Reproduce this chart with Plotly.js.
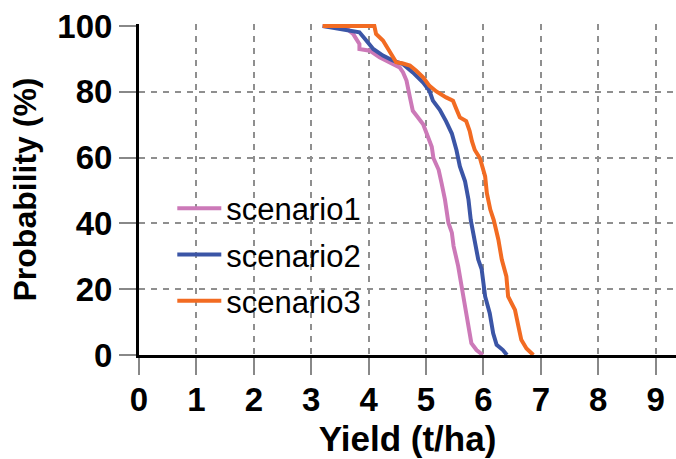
<!DOCTYPE html>
<html>
<head>
<meta charset="utf-8">
<script src="https://cdn.plot.ly/plotly-3.0.1.min.js"></script>
<style>
html,body{margin:0;padding:0;background:#fff;}
#chart{width:676px;height:459px;}
</style>
</head>
<body>
<div id="chart"></div>
<script>
// Scenario 1 (pink)
var s1Yield = [3.20, 3.60, 3.73, 3.84, 3.84, 4.02, 4.19, 4.37, 4.54, 4.60, 4.66, 4.72, 4.77, 4.86, 4.95, 5.03, 5.10, 5.13, 5.22, 5.27, 5.33, 5.39, 5.45, 5.48, 5.56, 5.62, 5.68, 5.74, 5.79, 5.88, 5.99];
var s1Prob  = [100, 99.5, 97.6, 94.5, 93, 92.5, 90.5, 89, 87.4, 85.9, 83.4, 78.3, 74.2, 72.2, 70.1, 66.5, 63.3, 59.8, 56.3, 52.3, 47.2, 40.2, 37.2, 33.1, 27, 20.9, 14.8, 8.7, 3.6, 1.5, 0];
// Scenario 2 (blue)
var s2Yield = [3.20, 3.84, 3.96, 4.08, 4.25, 4.42, 4.60, 4.77, 4.95, 5.06, 5.12, 5.24, 5.35, 5.45, 5.53, 5.59, 5.68, 5.74, 5.78, 5.85, 5.91, 5.97, 6.03, 6.11, 6.17, 6.23, 6.34, 6.41];
var s2Prob  = [100, 98.1, 95.6, 93, 91, 89.5, 88.4, 85.9, 82.8, 80.3, 77.3, 74.5, 71, 67.3, 62.3, 57.3, 52.8, 47.2, 41, 35.1, 29, 26, 17.8, 12.7, 6.6, 3.1, 1.5, 0];
// Scenario 3 (orange)
var s3Yield = [3.20, 4.10, 4.13, 4.25, 4.34, 4.42, 4.48, 4.60, 4.72, 4.83, 4.95, 5.06, 5.18, 5.35, 5.47, 5.53, 5.59, 5.70, 5.76, 5.80, 5.85, 5.94, 6.03, 6.06, 6.12, 6.18, 6.26, 6.32, 6.40, 6.43, 6.55, 6.61, 6.66, 6.75, 6.87];
var s3Prob  = [100, 100, 97.6, 95.6, 93, 90.5, 89, 88.6, 88, 86.4, 84.4, 81.8, 80.1, 78.3, 77.3, 74.7, 72.2, 71.1, 68.1, 65, 62.3, 59.8, 54.3, 49.2, 44.2, 41, 35.1, 29, 23.9, 17.8, 13.7, 8.7, 4.6, 2, 0];

var seriesNames = ['scenario1', 'scenario2', 'scenario3'];
var xTicks = [0, 1, 2, 3, 4, 5, 6, 7, 8, 9];
var yTicks = [0, 20, 40, 60, 80, 100];
var yGrid = [20, 40, 60, 80];

var colors = ['#CC79B8', '#3B55A6', '#F26B22'];
var xs = [s1Yield, s2Yield, s3Yield];
var ys = [s1Prob, s2Prob, s3Prob];

var traces = seriesNames.map(function(n, i){
  return {
    x: xs[i], y: ys[i], name: n, type: 'scatter', mode: 'lines',
    legendgroup: 'g' + i,
    line: {color: colors[i], width: 4, shape: 'linear'}
  };
});
// invisible trace on overlay axis to activate horizontal grid
traces.push({x: [0], y: [0], yaxis: 'y2', mode: 'markers', marker: {opacity: 0}, showlegend: false, hoverinfo: 'skip'});

var fontFam = 'Liberation Sans, Arial, sans-serif';
var layout = {
  width: 676, height: 459,
  margin: {l: 139, r: 0, t: 24, b: 104},
  paper_bgcolor: '#fff', plot_bgcolor: '#fff',
  showlegend: true,
  legend: {
    x: 0.062, y: 0.524, xanchor: 'left', yanchor: 'top',
    bgcolor: 'rgba(0,0,0,0)', borderwidth: 0,
    font: {family: fontFam, size: 31, color: '#000'},
    itemwidth: 44, tracegroupgap: 3
  },
  xaxis: {
    range: [0, 9.355], tickvals: xTicks, ticktext: xTicks.map(String),
    showline: true, linecolor: '#000', linewidth: 3,
    ticks: 'outside', ticklen: 17, tickwidth: 2, tickcolor: '#888',
    ticklabelstandoff: -4,
    showgrid: true, gridcolor: '#8f8f8f', gridwidth: 2, griddash: '6px,6px',
    zeroline: false,
    tickfont: {family: fontFam, size: 33, color: '#000', weight: 'bold'},
    title: {text: 'Yield (t/ha)', font: {family: fontFam, size: 35, color: '#000', weight: 'bold'}, standoff: 10}
  },
  yaxis: {
    range: [0, 100.6], tickvals: yTicks, ticktext: yTicks.map(String),
    showline: true, linecolor: '#000', linewidth: 3,
    ticks: 'outside', ticklen: 17, tickwidth: 2, tickcolor: '#888',
    showgrid: false, zeroline: false,
    tickfont: {family: fontFam, size: 33, color: '#000', weight: 'bold'},
    title: {text: 'Probability (%)', font: {family: fontFam, size: 32, color: '#000', weight: 'bold'}, standoff: 12}
  },
  yaxis2: {
    overlaying: 'y', range: [0, 100.6], tickvals: yGrid,
    showticklabels: false, ticks: '', showline: false, zeroline: false,
    showgrid: true, gridcolor: '#8f8f8f', gridwidth: 2, griddash: '6px,6px'
  }
};

Plotly.newPlot('chart', traces, layout, {staticPlot: true, displayModeBar: false});
</script>
</body>
</html>
